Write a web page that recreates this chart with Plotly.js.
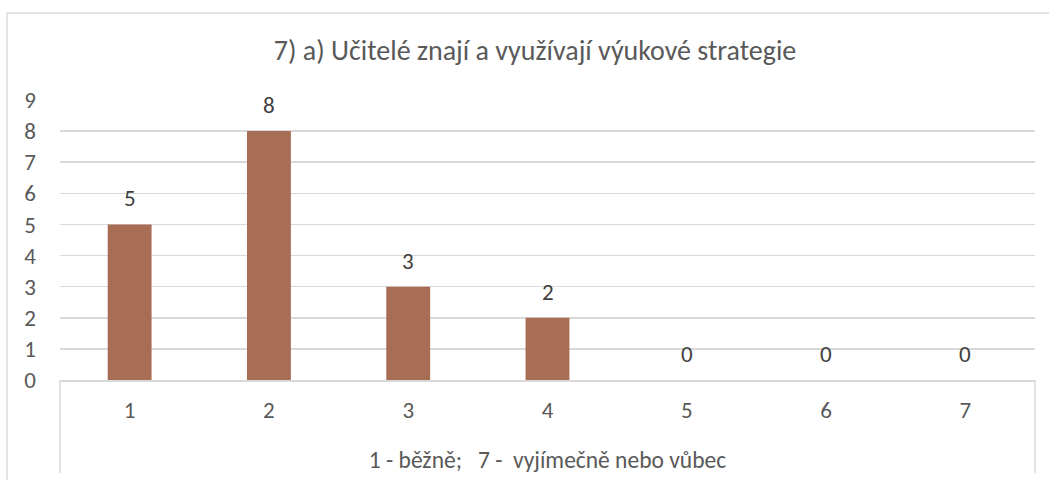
<!DOCTYPE html>
<html>
<head>
<meta charset="utf-8">
<script src="https://cdn.plot.ly/plotly-3.0.1.min.js"></script>
<style>body{margin:0;background:#fff}#chart{width:1049px;height:480px}</style>
</head>
<body>
<div id="chart"></div>
<script>
const categories = ["1", "2", "3", "4", "5", "6", "7"];
const values = [5, 8, 3, 2, 0, 0, 0];
const chartTitle = "7) a) Učitelé znají a využívají výukové strategie";
const xTitle = "1 - běžně;&nbsp;&nbsp; 7 -&nbsp; vyjímečně nebo vůbec";

const fontFam = "Calibri, Carlito, 'Noto Sans', sans-serif";
const textCol = "#595959";
const lineCol = "#D9D9D9";

const trace = {
  type: "bar",
  x: categories,
  y: values,
  marker: {color: "#A86D55"},
  hoverinfo: "x+y"
};

const labels = categories.map((c, i) => ({
  x: i, y: values[i], xref: "x", yref: "y",
  text: String(values[i]), showarrow: false,
  yanchor: "bottom", yshift: 10,
  font: {family: fontFam, size: 23, color: "#404040"}
}));

const layout = {
  width: 1049, height: 480,
  margin: {l: 60, r: 14, t: 100, b: 100},
  paper_bgcolor: "#fff", plot_bgcolor: "#fff",
  bargap: 0.685,
  showlegend: false,
  title: {text: chartTitle, font: {family: fontFam, size: 28, color: textCol},
          x: 535/1049, xref: "container", xanchor: "center", y: 1 - 50/480, yref: "container", yanchor: "middle"},
  xaxis: {
    type: "category",
    showline: true, linecolor: lineCol, linewidth: 1.5,
    ticks: "", showgrid: false,
    tickfont: {family: fontFam, size: 23, color: textCol},
    ticklabelstandoff: 9,
    title: {text: xTitle, font: {family: fontFam, size: 23.5, color: textCol}, standoff: 28}
  },
  yaxis: {
    range: [0, 9], dtick: 1, tick0: 0,
    showgrid: true, gridcolor: lineCol, gridwidth: 1.5,
    zeroline: false, showline: false, ticks: "",
    tickfont: {family: fontFam, size: 23, color: textCol},
    ticklabelstandoff: 23, automargin: false
  },
  annotations: labels,
  shapes: [
    {type: "line", xref: "paper", yref: "paper", x0: 0, x1: 0, y0: 0, y1: -93/280, line: {color: lineCol, width: 1.5}},
    {type: "line", xref: "paper", yref: "paper", x0: 1, x1: 1, y0: 0, y1: -93/280, line: {color: lineCol, width: 1.5}},
    {type: "line", xref: "paper", yref: "paper", x0: -53/975, x1: -53/975, y0: 367/280, y1: -110/280, line: {color: lineCol, width: 1.5}},
    {type: "line", xref: "paper", yref: "paper", x0: -53/975, x1: 1000/975, y0: 367/280, y1: 367/280, line: {color: lineCol, width: 1.5}}
  ]
};

Plotly.newPlot("chart", [trace], layout, {staticPlot: true, displayModeBar: false});
</script>
</body>
</html>
